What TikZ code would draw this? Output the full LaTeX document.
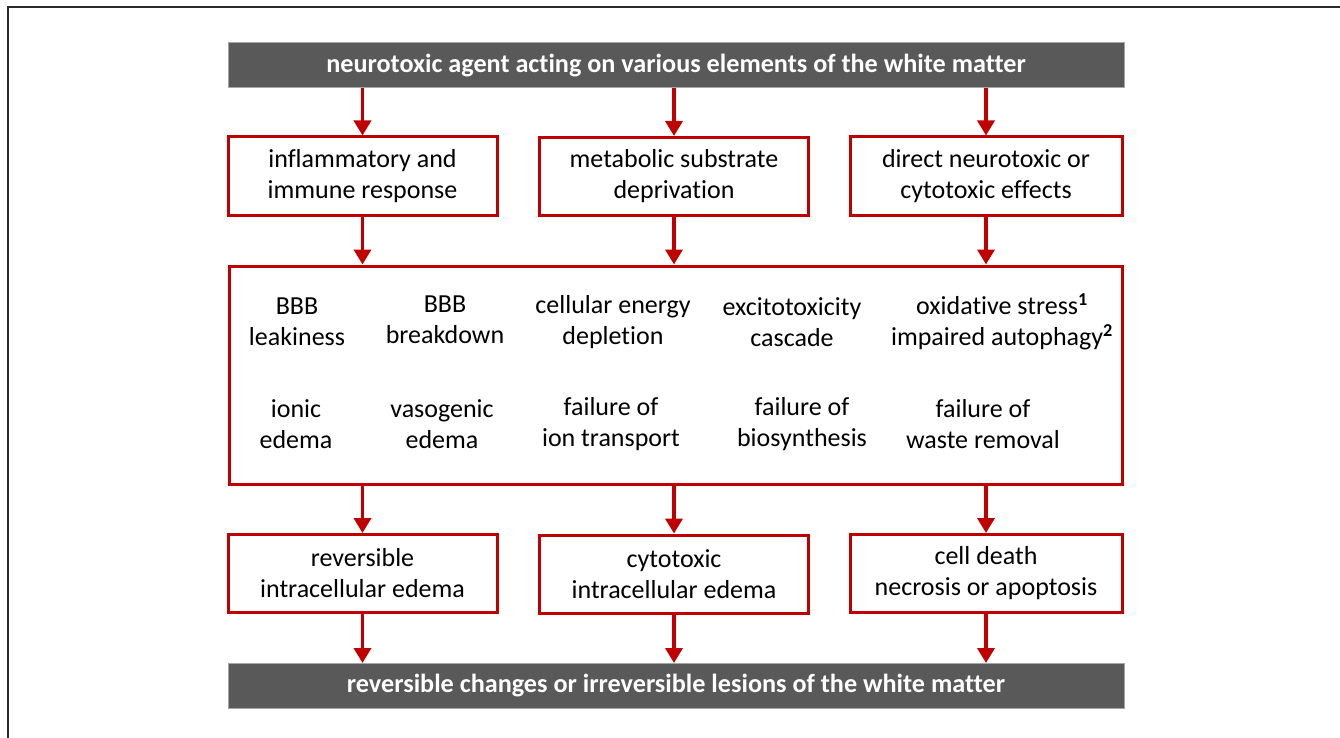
\documentclass[tikz,border=0pt]{standalone}
\usepackage{fontspec}
\setmainfont{Carlito}[Ligatures=NoCommon]
\usetikzlibrary{arrows.meta}
\definecolor{barGray}{HTML}{595959}
\definecolor{boxRed}{HTML}{C00000}
\definecolor{frameGray}{HTML}{2B2B2B}

\begin{document}
\begin{tikzpicture}
[x=1pt,y=-1pt,%
  barDecorate/.style={fill=barGray,draw=black!35,line width=1pt,text=white,font=\fontsize{26.2}{30}\selectfont\bfseries,minimum width=896pt,minimum height=45pt,inner sep=0pt},%
  boxDecorate/.style={draw=boxRed,line width=3pt,fill=white,align=center,font=\fontsize{26}{31}\selectfont,minimum width=269pt,minimum height=78pt,inner sep=0pt},%
  textDecorate/.style={align=center,font=\fontsize{26}{31}\selectfont,inner sep=0pt},%
  arrowDecorate/.style={-{Triangle[width=17pt,length=15pt]},draw=boxRed,fill=boxRed,line width=3.5pt}]
\useasboundingbox (0,0) rectangle (1340,738);
%% frame
\draw[frameGray,line width=2pt] (7.5,738) -- (7.5,7.5) -- (1340,7.5);
%% bars
\node[barDecorate] (agent) at (676,65.5) {neurotoxic agent acting on various elements of the white matter};
\node[barDecorate] (lesion) at (676,686) {reversible changes or irreversible lesions of the white matter};
%% first row of boxes
\node[boxDecorate] (immune) at (362.5,176) {inflammatory and\\immune response};
\node[boxDecorate] (substrate) at (674,176.5) {metabolic substrate\\deprivation};
\node[boxDecorate, minimum width=272pt] (direct) at (986,176) {direct neurotoxic or\\cytotoxic effects};
%% mechanisms box and its texts
\node[draw=boxRed,line width=3pt,minimum width=893pt,minimum height=218pt,inner sep=0pt] (mech) at (675.5,375) {};
\foreach \nodename/\x/\y/\txt in {
  leak/297/322/{BBB\\leakiness}, breakdown/445/320/{BBB\\breakdown},
  energy/613/322/{cellular energy\\depletion}, excito/792/322/{excitotoxicity\\cascade},
  oxid/1002/322/{oxidative stress\textsuperscript{\bfseries 1}\\impaired autophagy\textsuperscript{\bfseries 2}},
  ionic/296/424/{ionic\\edema}, vaso/442/424/{vasogenic\\edema},
  transport/611/424/{failure of\\ion transport}, biosyn/802/424/{failure of\\biosynthesis},
  waste/983/424/{failure of\\waste removal}}
{
  \node[textDecorate] (\nodename) at (\x,\y) {\txt};
}
%% last row of boxes
\node[boxDecorate] (reversible) at (362.5,573.5) {reversible\\intracellular edema};
\node[boxDecorate] (cytotoxic) at (674,574) {cytotoxic\\intracellular edema};
\node[boxDecorate, minimum width=272pt] (death) at (986,573.5) {cell death\\necrosis or apoptosis};
%% connect bars and boxes
\foreach \upper/\lower in {immune/immune, substrate/substrate, direct/direct}
{
  \draw[arrowDecorate] (agent.south -| \lower.north) -- (\lower.north);
  \draw[arrowDecorate] (\upper.south) -- (\upper.south |- mech.north);
}
\foreach \lower in {reversible, cytotoxic, death}
{
  \draw[arrowDecorate] (mech.south -| \lower.north) -- (\lower.north);
  \draw[arrowDecorate] (\lower.south) -- (\lower.south |- lesion.north);
}
\end{tikzpicture}
\end{document}
